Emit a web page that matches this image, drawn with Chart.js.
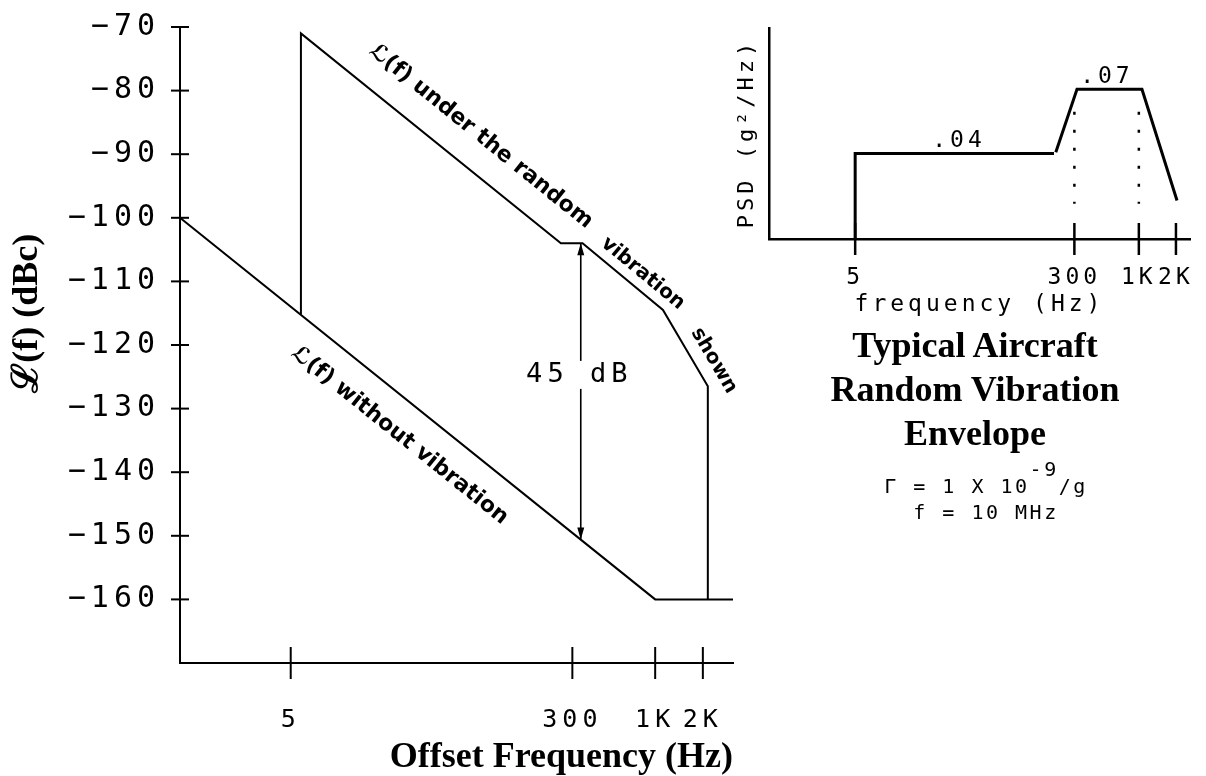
<!DOCTYPE html>
<html>
<head>
<meta charset="utf-8">
<script src="https://cdn.jsdelivr.net/npm/chart.js"></script>
<style>
body { margin: 0; background: #fff; width: 1206px; height: 776px; position: relative; overflow: hidden; }
canvas { position: absolute; }
#main { left: 0; top: 0; }
#psd { left: 700px; top: 0; }
.note { position: absolute; text-align: center; color: #000; }
#title { left: 825px; top: 323px; width: 300px; font: bold 36px 'Liberation Serif', serif; line-height: 44px; }
#consts { left: 836px; top: 473px; width: 300px; font: 20px 'DejaVu Sans Mono', monospace; letter-spacing: 2.5px; line-height: 26px; }
#consts span { position: relative; top: -17px; }
</style>
</head>
<body>
<canvas id="main" width="780" height="776"></canvas>
<canvas id="psd" width="506" height="330"></canvas>
<div class="note" id="title">Typical Aircraft<br>Random Vibration<br>Envelope</div>
<div class="note" id="consts">Γ = 1 X 10<span>-9</span>/g<br>f = 10 MHz</div>

<script>
const plotterFont = "'DejaVu Sans Mono', monospace";
const serifFont = "'Liberation Serif', 'DejaVu Serif', serif";

// main plot: L(f) in dBc against offset frequency
const xTickVals = [5, 300, 1000, 2000];
const xTickText = ["5", "300", "1K", "2K"];
const yTickVals = [-70, -80, -90, -100, -110, -120, -130, -140, -150, -160];

const quietFreq = [1, 1000, 3100];
const quietLevel = [-100, -160, -160];

const vibFreq = [5.8, 5.8, 254, 348, 1120, 2150, 2150];
const vibLevel = [-115.2, -71, -104, -104, -114.5, -126.5, -160];

const gapFreq = [339, 339];
const gapLevel = [-104, -150.6];
const gapText = "45 dB";

// inset: PSD envelope
const psdTickVals = [5, 300, 1000, 2000];
const psdTickText = ["5", "300", "1K", "2K"];
const psdFreq = [5, 5, 205, 208, 212, 315, 1060, 2040];
const psdLevel = [0, 0.04, 0.04, null, 0.0405, 0.07, 0.07, 0.018];
const psdMarkFreq = [300, 1000];
const psdMarkLevel = [0.0595, 0.0165];
const psdValText = [".04", ".07"];
const psdValFreq = [33.5, 531];
const psdValLevel = [0.04, 0.07];

// text laid along the curves
const lineNotes = [
    {text: "ℒ(f) under the random", xs: vibFreq, ys: vibLevel, seg: 1, f: 12, lift: 27, size: 22},
    {text: "vibration", xs: vibFreq, ys: vibLevel, seg: 3, f: 410, lift: 10, size: 20},
    {text: "shown", xs: vibFreq, ys: vibLevel, seg: 4, f: 1430, lift: 13, size: 20},
    {text: "ℒ(f) without vibration", xs: quietFreq, ys: quietLevel, seg: 0, f: 7, lift: -38, size: 22}
];

const pts = (xs, ys) => xs.map((x, i) => ({x: x, y: ys[i]}));

function lineSet(data, width, dash){
    return {
        data: data,
        borderColor: "#000",
        borderWidth: width,
        borderDash: dash || [],
        pointRadius: 0,
        tension: 0,
        fill: false
    };
}

// tick marks that go through the axis line
const crossTicks = {
    id: "crossTicks",
    beforeDraw(chart, args, opts){
        if(opts.allText) chart.ctx.letterSpacing = opts.spacing;
    },
    afterDatasetsDraw(chart, args, opts){
        const ctx = chart.ctx;
        const sx = chart.scales.x, sy = chart.scales.y;
        ctx.save();
        ctx.strokeStyle = "#000";
        ctx.lineWidth = opts.width;
        if(opts.x){
            sx.ticks.forEach(t => {
                const p = sx.getPixelForValue(t.value);
                ctx.beginPath();
                ctx.moveTo(p, sy.bottom - opts.x);
                ctx.lineTo(p, sy.bottom + opts.x);
                ctx.stroke();
            });
        }
        if(opts.y){
            sy.ticks.forEach(t => {
                const p = sy.getPixelForValue(t.value);
                ctx.beginPath();
                ctx.moveTo(sx.left - opts.y, p);
                ctx.lineTo(sx.left + opts.y, p);
                ctx.stroke();
            });
        }
        ctx.restore();
        // tick labels are drawn after this (ticks.z = 1), plotter style spacing
        ctx.letterSpacing = opts.spacing;
    }
};

// rotated labels, arrow heads, 45 dB, y title
const mainNotes = {
    id: "mainNotes",
    afterDraw(chart){
        const ctx = chart.ctx;
        const sx = chart.scales.x, sy = chart.scales.y;
        ctx.letterSpacing = "0px";
        ctx.fillStyle = "#000";

        ctx.save();
        ctx.textAlign = "left";
        ctx.textBaseline = "alphabetic";
        lineNotes.forEach(n => {
            const x0 = sx.getPixelForValue(n.xs[n.seg]), y0 = sy.getPixelForValue(n.ys[n.seg]);
            const x1 = sx.getPixelForValue(n.xs[n.seg + 1]), y1 = sy.getPixelForValue(n.ys[n.seg + 1]);
            const px = sx.getPixelForValue(n.f);
            const py = y0 + (px - x0) * (y1 - y0) / (x1 - x0);
            ctx.save();
            ctx.font = "bold " + n.size + "px 'DejaVu Sans', sans-serif";
            ctx.translate(px, py);
            ctx.rotate(Math.atan2(y1 - y0, x1 - x0));
            ctx.fillText(n.text, 0, -n.lift);
            ctx.restore();
        });
        ctx.restore();

        // arrow heads on the 45 dB span
        const ax = sx.getPixelForValue(gapFreq[0]);
        const aTop = sy.getPixelForValue(gapLevel[0]);
        const aBot = sy.getPixelForValue(gapLevel[1]);
        ctx.beginPath();
        ctx.moveTo(ax, aTop); ctx.lineTo(ax - 3.5, aTop + 12); ctx.lineTo(ax + 3.5, aTop + 12); ctx.closePath();
        ctx.moveTo(ax, aBot); ctx.lineTo(ax - 3.5, aBot - 12); ctx.lineTo(ax + 3.5, aBot - 12); ctx.closePath();
        ctx.fill();

        // label sits in a break of the arrow line
        const ly = sy.getPixelForValue(-124.7);
        ctx.fillStyle = "#fff";
        ctx.fillRect(ax - 5, ly - 14, 10, 28);
        ctx.fillStyle = "#000";
        ctx.save();
        ctx.letterSpacing = "5px";
        ctx.font = "27px " + plotterFont;
        ctx.textAlign = "center";
        ctx.textBaseline = "middle";
        ctx.fillText(gapText, ax - 1.5, ly);
        ctx.restore();

        // y axis title
        ctx.save();
        ctx.translate(28, sy.getPixelForValue(-115));
        ctx.rotate(-Math.PI / 2);
        ctx.font = "bold 36px " + serifFont;
        ctx.textAlign = "center";
        ctx.textBaseline = "middle";
        ctx.fillText("ℒ(f) (dBc)", 0, 0);
        ctx.restore();
    }
};

new Chart(document.getElementById("main"), {
    type: "line",
    data: {
        datasets: [
            lineSet(pts(quietFreq, quietLevel), 2),
            lineSet(pts(vibFreq, vibLevel), 2),
            lineSet(pts(gapFreq, gapLevel), 1.6)
        ]
    },
    options: {
        responsive: false,
        animation: false,
        events: [],
        layout: {padding: {left: 0, top: 27, right: 47, bottom: 0}},
        plugins: {
            legend: {display: false},
            tooltip: {enabled: false},
            crossTicks: {x: 16, y: 9, width: 2, spacing: "5px"}
        },
        scales: {
            x: {
                type: "logarithmic",
                min: 1,
                max: 3100,
                grid: {display: false, drawTicks: false},
                border: {color: "#000", width: 2},
                ticks: {
                    z: 1,
                    padding: 42,
                    color: "#000",
                    autoSkip: false,
                    maxRotation: 0,
                    font: {family: plotterFont, size: 25},
                    callback: v => xTickText[xTickVals.indexOf(v)]
                },
                afterBuildTicks: s => { s.ticks = xTickVals.map(v => ({value: v})); },
                afterFit: s => { s.height = 113; s.paddingLeft = 0; s.paddingRight = 0; },
                title: {
                    display: true,
                    text: "Offset Frequency (Hz)",
                    align: "end",
                    color: "#000",
                    font: {family: serifFont, size: 36, weight: "bold", lineHeight: 1},
                    padding: {top: 0, bottom: 0}
                }
            },
            y: {
                min: -170,
                max: -70,
                grid: {display: false, drawTicks: false},
                border: {color: "#000", width: 2},
                ticks: {
                    z: 1,
                    padding: 20,
                    color: "#000",
                    autoSkip: false,
                    font: {family: plotterFont, size: 30},
                    callback: v => String(v).replace("-", "\u2212")
                },
                afterBuildTicks: s => { s.ticks = yTickVals.map(v => ({value: v})); },
                afterFit: s => { s.width = 180; s.paddingTop = 0; s.paddingBottom = 0; }
            }
        }
    },
    plugins: [crossTicks, mainNotes]
});

// .04 / .07 over the PSD levels
const psdNotes = {
    id: "psdNotes",
    afterDraw(chart){
        const ctx = chart.ctx;
        const sx = chart.scales.x, sy = chart.scales.y;
        ctx.save();
        ctx.fillStyle = "#000";
        ctx.font = "23px " + plotterFont;
        ctx.textAlign = "center";
        ctx.textBaseline = "alphabetic";
        psdValText.forEach((t, i) => {
            ctx.fillText(t, sx.getPixelForValue(psdValFreq[i]) + 2, sy.getPixelForValue(psdValLevel[i]) - 6);
        });
        ctx.restore();
    }
};

const psdSets = [lineSet(pts(psdFreq, psdLevel), 3)];
psdMarkFreq.forEach(f => {
    psdSets.push(lineSet(pts([f, f], psdMarkLevel), 2.5, [3, 15]));
});

new Chart(document.getElementById("psd"), {
    type: "line",
    data: {datasets: psdSets},
    options: {
        responsive: false,
        animation: false,
        events: [],
        layout: {padding: {left: 0, top: 28, right: 16, bottom: 0}},
        plugins: {
            legend: {display: false},
            tooltip: {enabled: false},
            crossTicks: {x: 16, width: 2.5, spacing: "4px", allText: true}
        },
        scales: {
            x: {
                type: "logarithmic",
                min: 1,
                max: 2600,
                grid: {display: false, drawTicks: false},
                border: {color: "#000", width: 2.5},
                ticks: {
                    padding: 25,
                    color: "#000",
                    autoSkip: false,
                    maxRotation: 0,
                    font: {family: plotterFont, size: 23},
                    callback: v => psdTickText[psdTickVals.indexOf(v)]
                },
                afterBuildTicks: s => { s.ticks = psdTickVals.map(v => ({value: v})); },
                afterFit: s => { s.height = 91; s.paddingLeft = 0; s.paddingRight = 0; },
                title: {
                    display: true,
                    text: "frequency (Hz)",
                    color: "#000",
                    font: {family: plotterFont, size: 23, lineHeight: 1},
                    padding: {top: 0, bottom: 13}
                }
            },
            y: {
                min: 0,
                max: 0.0986,
                grid: {display: false, drawTicks: false},
                border: {color: "#000", width: 2.5},
                ticks: {display: false},
                afterFit: s => { s.width = 69; s.paddingTop = 0; s.paddingBottom = 0; },
                title: {
                    display: true,
                    text: "PSD (g²/Hz)",
                    color: "#000",
                    font: {family: plotterFont, size: 22, lineHeight: 1},
                    padding: {top: 36, bottom: 0}
                }
            }
        }
    },
    plugins: [crossTicks, psdNotes]
});
</script>
</body>
</html>
